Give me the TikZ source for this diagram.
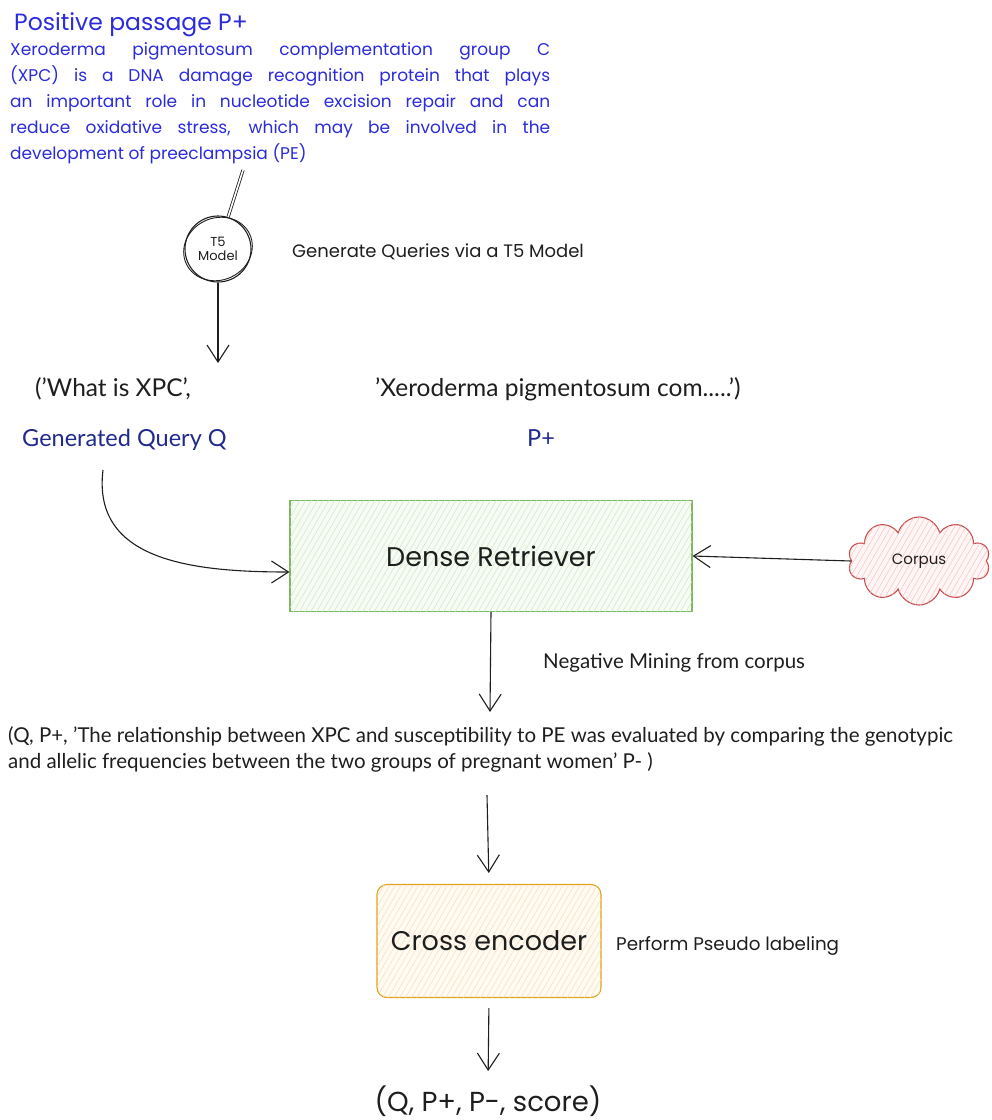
\documentclass[tikz,border=0pt]{standalone}
\usepackage{fontspec}
\setmainfont{Lato}
\newfontfamily\roundfont{Poppins}
\usetikzlibrary{arrows.meta,patterns.meta,shapes.symbols}

\definecolor{ink}{HTML}{1E1E1E}
\definecolor{passblue}{HTML}{2B2BDC}
\definecolor{navy}{HTML}{1F2A8C}
\definecolor{grnline}{HTML}{7DB85C}
\definecolor{grnfill}{HTML}{F6FBF3}
\definecolor{grnhatch}{HTML}{CFE7C4}
\definecolor{redline}{HTML}{C94F4F}
\definecolor{redfill}{HTML}{FFF5F5}
\definecolor{redhatch}{HTML}{F4C4C4}
\definecolor{orgline}{HTML}{E0A21A}
\definecolor{orgfill}{HTML}{FFFAF2}
\definecolor{orghatch}{HTML}{FADDB8}

\newcommand{\fs}[1]{\fontsize{#1}{#1}\selectfont}
\newcommand{\rfs}[1]{\roundfont\fontsize{#1}{#1}\selectfont}

\begin{document}
\begin{tikzpicture}[x=1pt,y=-1pt,
  inkline/.style={draw=ink, line width=1.1pt},
  flow/.style={inkline, -{Straight Barb[length=17pt,width=22pt,line width=1.1pt]}},
  lbl/.style={anchor=base west, inner sep=0pt, text=ink},
  paraline/.style={anchor=base west, inner sep=0pt, text=passblue, font=\rfs{17}},
  hatchbox/.style 2 args={draw=#1, line width=1.1pt,
    postaction={pattern={Lines[angle=60,distance=5pt,line width=0.5pt]}, pattern color=#2}},
]
\useasboundingbox (0,0) rectangle (992,1120);

% positive passage
\node[paraline, font=\rfs{23.5}] (title) at (14,30) {Positive passage P+};
\node[paraline] (p1) at (10,55) {\makebox[540pt][s]{Xeroderma pigmentosum complementation group C}};
\node[paraline] (p2) at (10,81) {\makebox[540pt][s]{(XPC) is a DNA damage recognition protein that plays}};
\node[paraline] (p3) at (10,107) {\makebox[540pt][s]{an important role in nucleotide excision repair and can}};
\node[paraline] (p4) at (10,133) {\makebox[540pt][s]{reduce oxidative stress, which may be involved in the}};
\node[paraline] (p5) at (10,159) {development of preeclampsia (PE)};
\coordinate (passend) at (243,170);

% query generation
\node[circle, draw=ink, line width=1.1pt, minimum size=66pt, inner sep=0pt,
      align=center, font=\roundfont\fontsize{13}{14}\selectfont, text=ink] (t5) at (218,249) {T5\\Model};
\draw[ink, line width=0.9pt, rotate around={25:(t5.center)}] (t5.center) ellipse [x radius=35pt, y radius=31pt];
\node[lbl, font=\rfs{18}] (genlbl) at (292,257) {Generate Queries via a T5 Model};
\coordinate (qtop) at (218,363);

\node[lbl, font=\fs{24.5}] (qtext) at (35,396) {('What is XPC',};
\node[lbl, font=\fs{24.5}] (ptext) at (375,396) {'Xeroderma pigmentosum com.....')};
\node[lbl, font=\fs{23.5}, text=navy] (genq) at (22,446) {Generated Query Q};
\node[lbl, font=\fs{23.5}, text=navy] (pplus) at (527,446) {P+};
\coordinate (cstart) at (103,470);

% dense retrieval
\node[hatchbox={grnline}{grnhatch}, fill=grnfill, minimum width=402pt, minimum height=111pt,
      font=\rfs{27}, text=ink] (dense) at (491,556) {Dense Retriever};
\node[cloud, cloud puffs=10, aspect=1.6, hatchbox={redline}{redhatch}, fill=redfill,
      minimum width=142pt, minimum height=88pt, inner sep=0pt,
      font=\rfs{15}, text=ink] (corpus) at (919,561) {Corpus};
\node[lbl, font=\fs{20.5}] (neglbl) at (543,668) {Negative Mining from corpus};
\coordinate (negend) at (490,712);

\node[lbl, font=\fs{20.5}] (tup1) at (8,742) {(Q, P+, 'The relationship between XPC and susceptibility to PE was evaluated by comparing the genotypic};
\node[lbl, font=\fs{20.5}] (tup2) at (8,768) {and allelic frequencies between the two groups of pregnant women' P- )};
\coordinate (tupend) at (487,795);

% cross encoder
\node[hatchbox={orgline}{orghatch}, fill=orgfill, rounded corners=10pt,
      minimum width=224pt, minimum height=113pt, font=\rfs{27}, text=ink] (cross) at (489,941) {Cross encoder};
\node[lbl, font=\rfs{18.3}] (pseudo) at (616,950) {Perform Pseudo labeling};
\node[anchor=base, inner sep=0pt, font=\rfs{27.5}, text=ink] (result) at (488,1111) {(Q, P+, P-, score)};

% connectors
\draw[inkline, double=white, double distance=1.6pt, line width=0.8pt] (passend) -- (t5);
\draw[flow] (t5) -- (qtop);
\draw[flow] (cstart) .. controls (92,560) and (190,572) .. ([yshift=-16pt]dense.west);
\draw[flow] (corpus.west) -- (dense.east);
\draw[flow] (dense.south) -- (negend);
\draw[flow, shorten >=11pt] (tupend) -- (cross.north);
\draw[flow, shorten <=10pt, shorten >=14pt] (cross.south) -- (result.north);
\end{tikzpicture}
\end{document}
